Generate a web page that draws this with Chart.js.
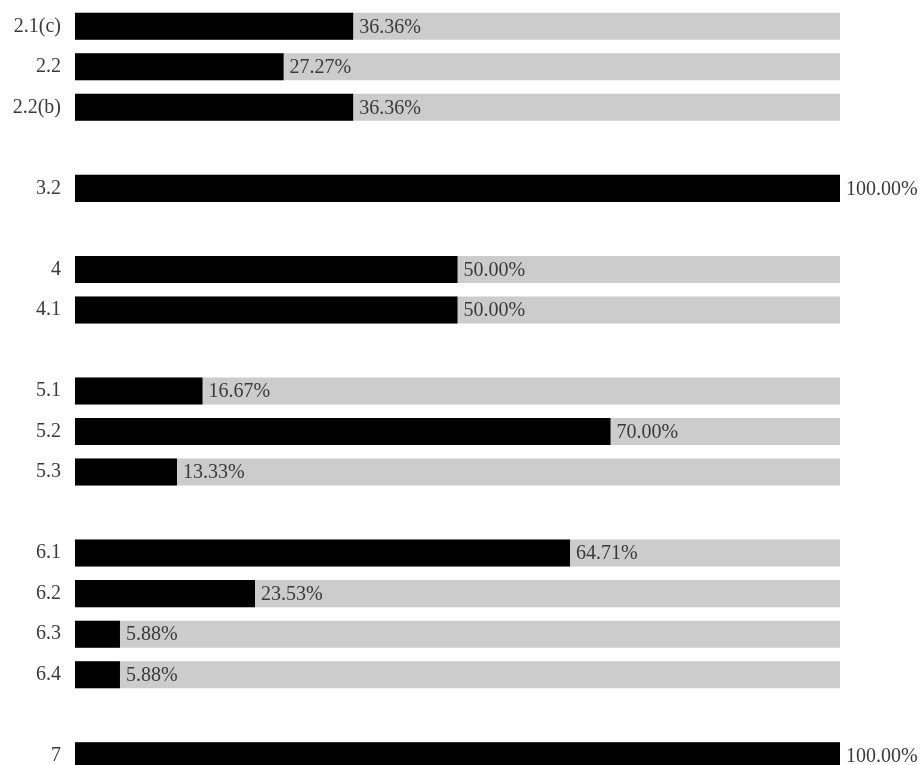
<!DOCTYPE html>
<html>
<head>
<meta charset="utf-8">
<script src="https://cdn.jsdelivr.net/npm/chart.js@4/dist/chart.umd.min.js"></script>
<style>
  html, body { margin: 0; padding: 0; background: #fff; overflow: hidden; }
  #wrap { position: relative; width: 921px; height: 776px; }
</style>
</head>
<body>
<div id="wrap"><canvas id="c"></canvas></div>
<script>
// Blank strings are spacer rows between the section groups
const labels = ['2.1(c)', '2.2', '2.2(b)', '', '3.2', '', '4', '4.1', '',
  '5.1', '5.2', '5.3', '', '6.1', '6.2', '6.3', '6.4', '', '7'];
const shares = [36.36, 27.27, 36.36, null, 100, null, 50, 50, null,
  16.67, 70, 13.33, null, 64.71, 23.53, 5.88, 5.88, null, 100];
const track = shares.map(v => v === null ? null : 100);

const FONT = "'Liberation Serif', 'Times New Roman', serif";

// percentage text just past the end of each black bar
const valueLabels = {
  id: 'valueLabels',
  afterDatasetsDraw(chart){
    const ctx = chart.ctx;
    const meta = chart.getDatasetMeta(0);
    ctx.save();
    ctx.font = '20px ' + FONT;
    ctx.fillStyle = '#3a3a3a';
    ctx.textAlign = 'left';
    ctx.textBaseline = 'middle';
    meta.data.forEach((bar, i) => {
      const v = shares[i];
      if (v === null) return;
      ctx.fillText(v.toFixed(2) + '%', bar.x + 6, bar.y + 1);
    });
    ctx.restore();
  }
};

new Chart(document.getElementById('c'), {
  type: 'bar',
  data: {
    labels: labels,
    datasets: [
      { label: 'Share', data: shares, backgroundColor: '#000000',
        categoryPercentage: 1, barPercentage: 0.667 },
      { label: 'Total', data: track, backgroundColor: '#cccccc',
        categoryPercentage: 1, barPercentage: 0.667 }
    ]
  },
  options: {
    indexAxis: 'y',
    responsive: true, maintainAspectRatio: false,
    animation: false,
    layout: { padding: { top: 6, right: 81, bottom: 0, left: 0 } },
    plugins: { legend: { display: false }, tooltip: { enabled: false } },
    scales: {
      x: { display: false, min: 0, max: 100 },
      y: {
        stacked: true,
        grid: { display: false, drawTicks: false },
        border: { display: false },
        ticks: { color: '#3a3a3a', padding: 14, font: { family: FONT, size: 20 } },
        afterFit(scale){
          scale.width = 75;
          scale.paddingTop = 0;
          scale.paddingBottom = 0;
        }
      }
    }
  },
  plugins: [valueLabels]
});
</script>
</body>
</html>
